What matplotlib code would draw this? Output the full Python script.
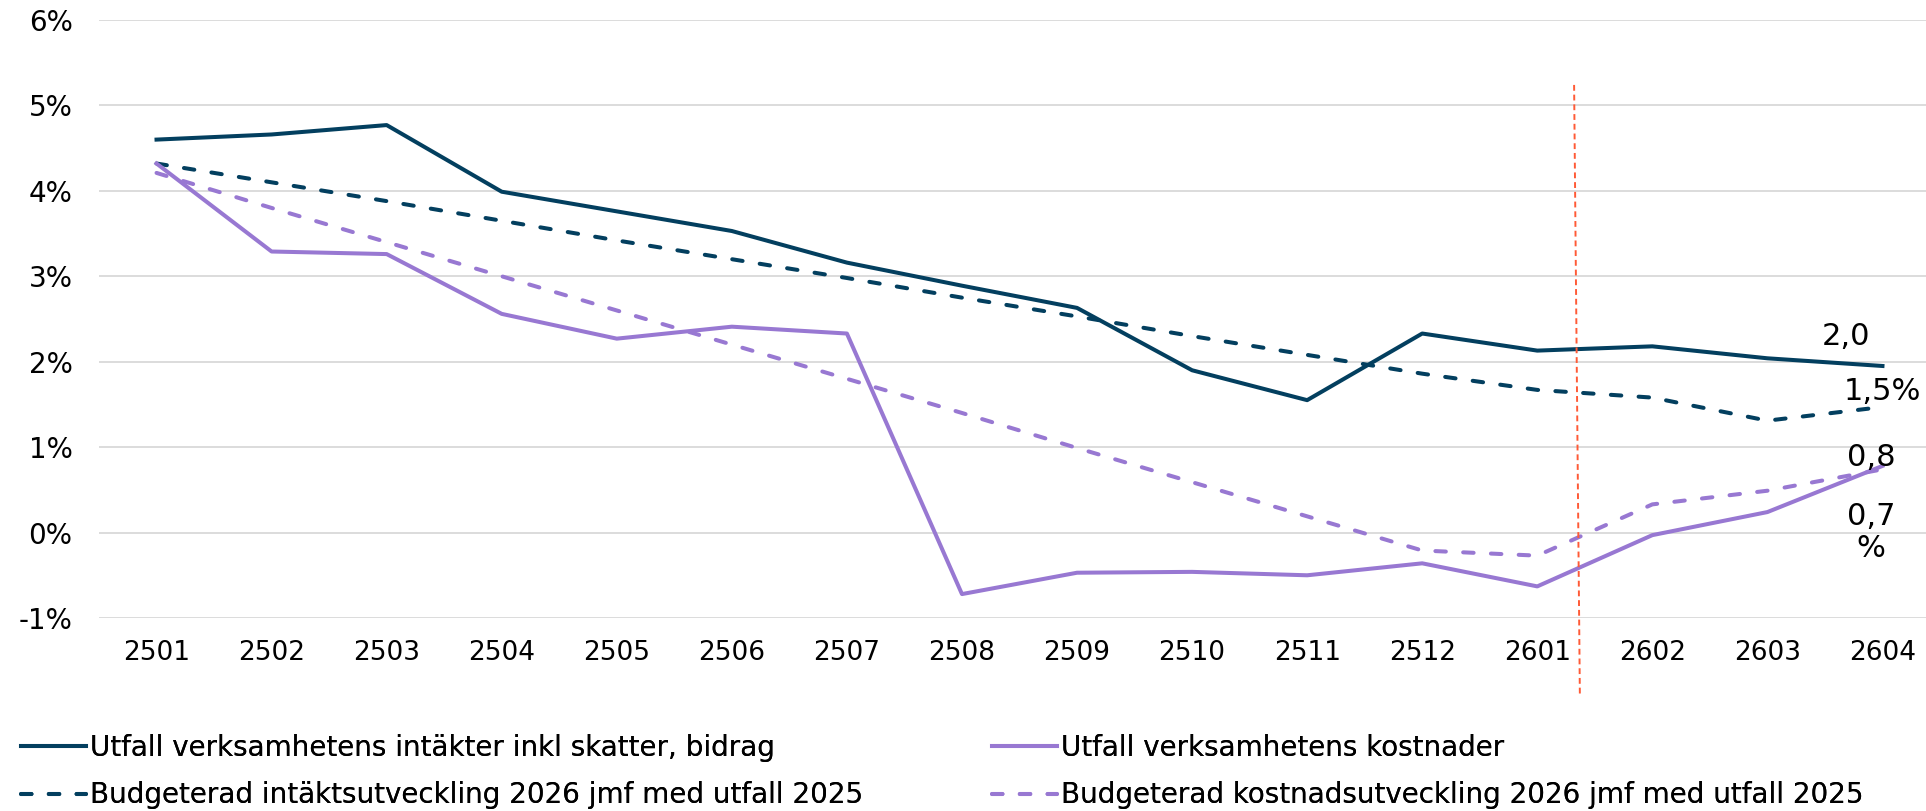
import numpy as np
import matplotlib.pyplot as plt

plt.rcParams['font.family'] = ['DejaVu Sans']

# Data
perioder = ['2501', '2502', '2503', '2504', '2505', '2506', '2507', '2508',
            '2509', '2510', '2511', '2512', '2601', '2602', '2603', '2604']

utfall_intakter = [4.60, 4.66, 4.77, 3.99, 3.76, 3.53, 3.16, 2.89,
                   2.63, 1.90, 1.55, 2.33, 2.13, 2.18, 2.04, 1.95]
budget_intakter = [4.32, 4.10, 3.88, 3.65, 3.42, 3.20, 2.98, 2.75,
                   2.53, 2.30, 2.08, 1.86, 1.67, 1.58, 1.31, 1.47]
utfall_kostnader = [4.32, 3.29, 3.26, 2.56, 2.27, 2.41, 2.33, -0.72,
                    -0.47, -0.46, -0.50, -0.36, -0.63, -0.03, 0.24, 0.78]
budget_kostnader = [4.21, 3.80, 3.40, 3.00, 2.60, 2.20, 1.80, 1.40,
                    0.99, 0.59, 0.19, -0.21, -0.27, 0.33, 0.49, 0.74]

y_ticks = [-1, 0, 1, 2, 3, 4, 5, 6]
y_ticklabels = ['-1%', '0%', '1%', '2%', '3%', '4%', '5%', '6%']

etiketter = ['2,0', '1,5%', '0,8', '0,7\n%']
etikett_x = [14.68, 15.0, 14.9, 14.9]
etikett_y = [2.30, 1.65, 0.88, 0.0]

# red marker between 2601 and 2602
markering_x = [12.32, 12.37]
markering_y = [5.24, -1.89]

bla = '#033F5F'
lila = '#9878D2'
streck = (2.6, 4.3)

fig = plt.figure(figsize=(19.26, 8.11), dpi=100)
ax = fig.add_axes([99 / 1926, 1 - 618 / 811, (1940 - 99) / 1926, (618 - 20) / 811])

x = np.arange(len(perioder))
l1, = ax.plot(x, utfall_intakter, color=bla, lw=2.9,
              label='Utfall verksamhetens intäkter inkl skatter, bidrag')
l2, = ax.plot(x, budget_intakter, color=bla, lw=2.9, dashes=streck,
              dash_capstyle='round',
              label='Budgeterad intäktsutveckling 2026 jmf med utfall 2025')
l3, = ax.plot(x, utfall_kostnader, color=lila, lw=2.9,
              label='Utfall verksamhetens kostnader')
l4, = ax.plot(x, budget_kostnader, color=lila, lw=2.9, dashes=streck,
              dash_capstyle='round',
              label='Budgeterad kostnadsutveckling 2026 jmf med utfall 2025')

ax.plot(markering_x, markering_y, color='#FF5A36', lw=1.4,
        linestyle=(0, (3, 2)), clip_on=False)

for t, tx, ty in zip(etiketter, etikett_x, etikett_y):
    ax.text(tx, ty, t, ha='center', va='center', fontsize=22,
            color='black', linespacing=1.15)

ax.set_xlim(-0.5, 15.5)
ax.set_ylim(-1, 6)
ax.set_xticks(x)
ax.set_xticklabels(perioder, fontsize=19)
ax.set_yticks(y_ticks)
ax.set_yticklabels(y_ticklabels, fontsize=20)
ax.tick_params(length=0)
ax.tick_params(axis='y', pad=19)
ax.tick_params(axis='x', pad=16)
for s in ax.spines.values():
    s.set_visible(False)
ax.grid(axis='y', color='#D9D9D9', lw=1.3)
ax.set_axisbelow(True)

legend_y = 1 - 771.5 / 811
for handles, lx in [([l1, l2], 21 / 1926), ([l3, l4], 992 / 1926)]:
    leg = fig.legend(handles=handles, loc='center left',
                     bbox_to_anchor=(lx, legend_y), frameon=False, fontsize=20,
                     handlelength=2.35, handletextpad=0.15, labelspacing=0.7,
                     borderpad=0, borderaxespad=0)
    fig.add_artist(leg)

fig.savefig('out.png', dpi=100)
